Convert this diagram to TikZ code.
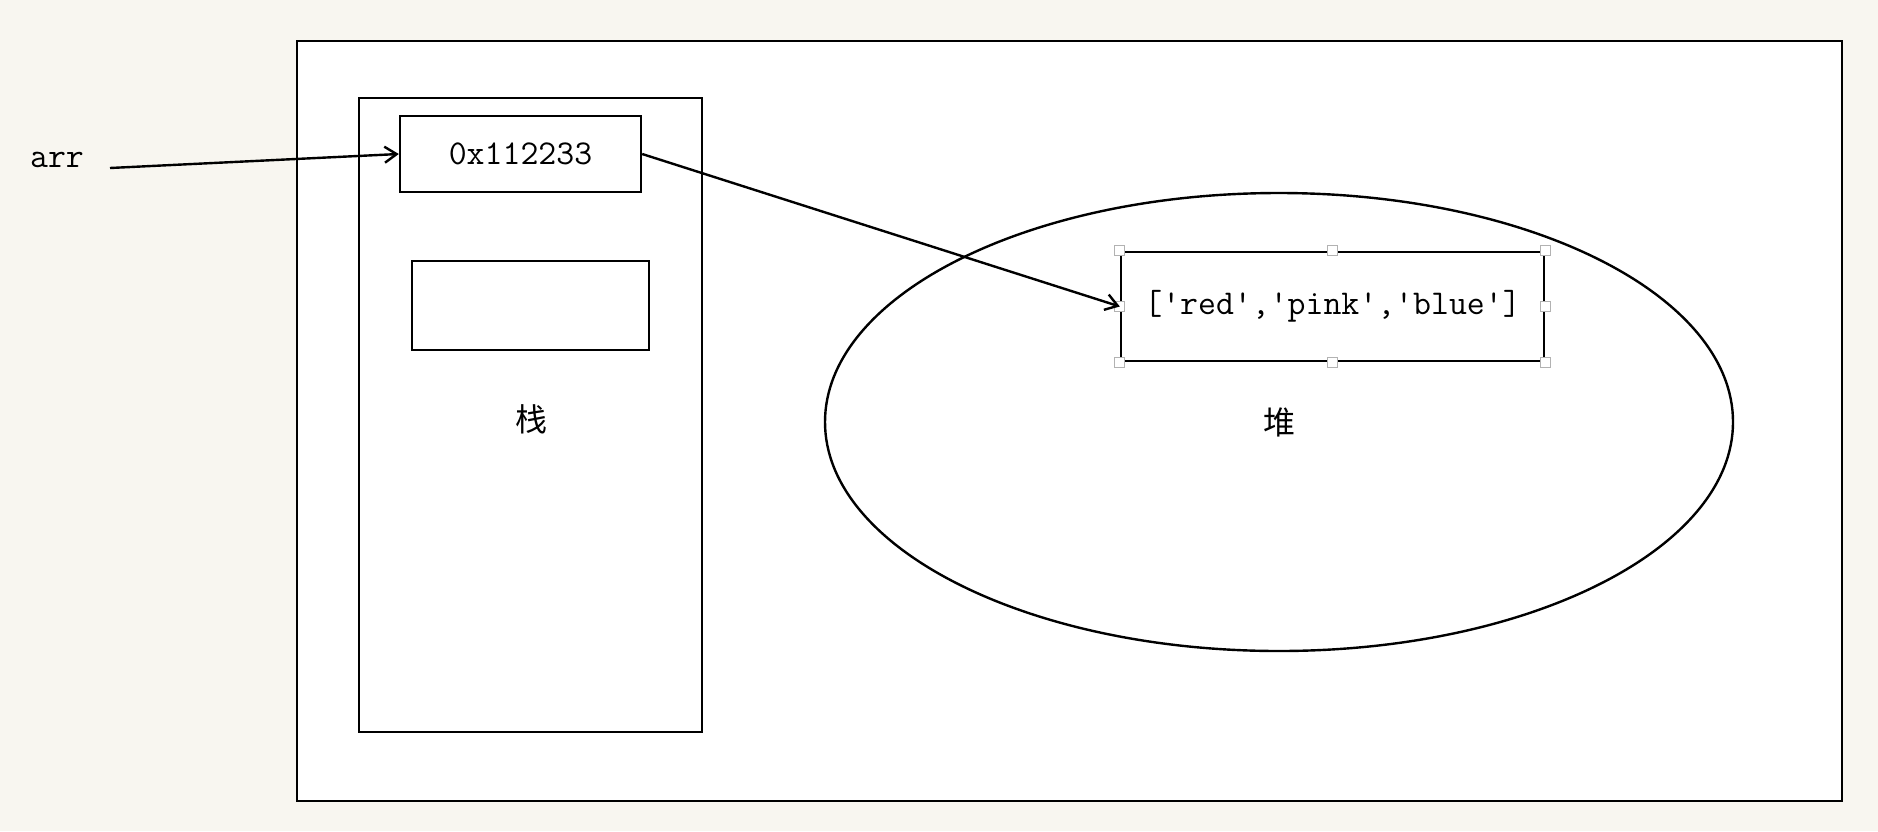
\documentclass[tikz,border=0pt]{standalone}
\usepackage{fontspec}
\newfontfamily\cjk{Noto Sans CJK SC}
\usetikzlibrary{arrows.meta,shapes.geometric}
\definecolor{paper}{RGB}{248,246,240}
\begin{document}
\begin{tikzpicture}[x=0.5pt,y=-0.5pt,line width=1.2pt,
        font=\ttfamily\fontsize{17.4}{20}\selectfont,
        box/.style={draw,inner sep=0pt},
        handle/.style={draw=gray!60,fill=white,line width=0.5pt,minimum size=5pt,inner sep=0pt},
        ptr/.style={-{Straight Barb[length=6pt,width=8pt]}}]
    \fill[paper] (0,0) rectangle (1878,831);
    \useasboundingbox (0,0) rectangle (1878,831);
    % memory
    \draw[fill=white] (297,41) rectangle (1842,801);
    % stack
    \draw (359,98) rectangle (702,732);
    \node[box,minimum width=120.5pt,minimum height=38pt] (addr) at (520.5,154) {0x112233};
    \node[box,minimum width=118.5pt,minimum height=44.5pt] (slot) at (530.5,305.5) {};
    \node[font=\cjk\fontsize{16}{18}\selectfont] (stack) at (531,419) {栈};
    % heap
    \node[draw,ellipse,minimum width=454pt,minimum height=229pt,inner sep=0pt] (heap) at (1279,422) {};
    \node[font=\cjk\fontsize{16}{18}\selectfont] (heaplabel) at (1279,422) {堆};
    \node[box,minimum width=211.5pt,minimum height=54.5pt] (arrbox) at (1332.5,306.5) {['red','pink','blue']};
    \foreach \a in {north west,north,north east,east,south east,south,south west,west}
      \node[handle] at (arrbox.\a) {};
    % variable
    \node (arr) at (57,160) {arr};
    \coordinate (tail) at (110,168);
    \draw[ptr] (tail) -- (addr.west);
    \draw[ptr] (addr.east) -- (arrbox.west);
\end{tikzpicture}
\end{document}
